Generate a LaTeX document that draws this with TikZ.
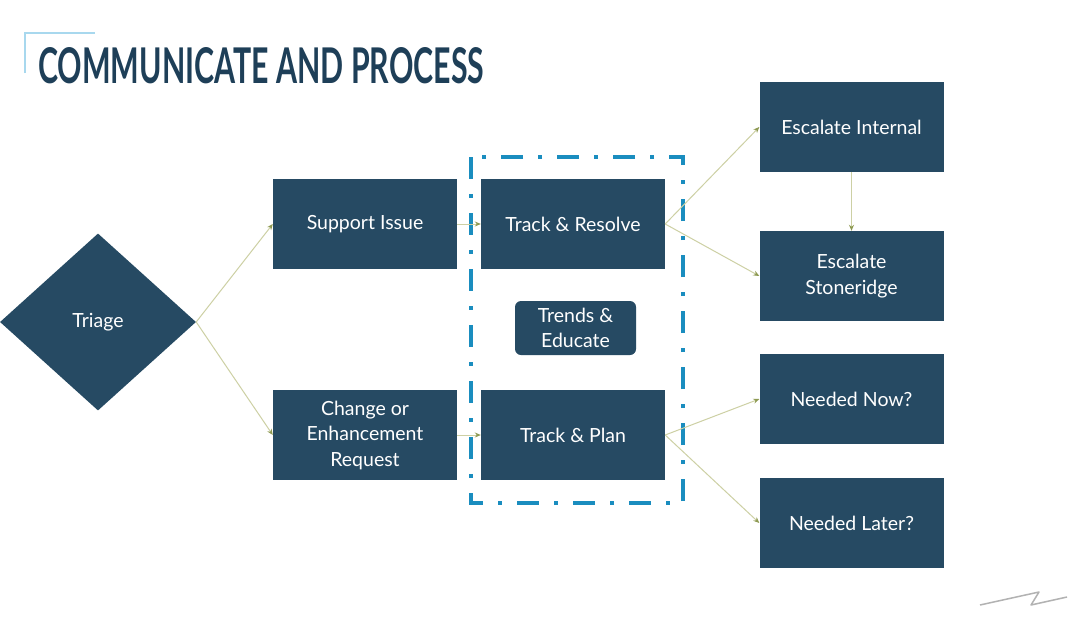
\documentclass[tikz,border=0pt]{standalone}
\usepackage{fontspec}
\setmainfont{Lato}
\usetikzlibrary{shapes.geometric,arrows.meta}
\definecolor{boxblue}{HTML}{264A63}
\definecolor{titleblue}{HTML}{1E3F58}
\definecolor{dashblue}{HTML}{1A8DBF}
\definecolor{linkline}{HTML}{CDD0A4}
\definecolor{linkhead}{HTML}{8E9A52}
\definecolor{cornerblue}{HTML}{A8D8EE}
\begin{document}
\begin{tikzpicture}[x=1pt,y=-1pt,
  stage/.style={rectangle,fill=boxblue,text=white,minimum width=184pt,minimum height=90pt,inner sep=2pt,align=center,font=\fontsize{19.5}{25.5}\selectfont},
  link/.style={draw=linkline,line width=1pt,-{Stealth[length=6pt,width=5pt,color=linkhead]}}]
      \useasboundingbox[fill=white] (0,0) rectangle (1082,635);
      \draw[cornerblue,line width=2pt] (25,73) -- (25,33) -- (95,33);
      \node[anchor=north west,inner sep=0,text=titleblue] (title) at (38,47) {\resizebox{446pt}{36pt}{\bfseries COMMUNICATE AND PROCESS}};
      \draw[dashblue,line width=4pt,dash pattern=on 22pt off 15pt on 4pt off 15pt] (471,157) rectangle (683,503);
      \node[diamond,fill=boxblue,text=white,aspect=1,minimum width=196pt,minimum height=177pt,inner sep=0,font=\fontsize{19.5}{25.5}\selectfont] (triage) at (98,322) {Triage};
      \node[stage] (support) at (365,224) {Support Issue};
      \node[stage] (change) at (365,435) {Change or\\Enhancement\\Request};
      \node[stage] (resolve) at (573,224) {Track \& Resolve};
      \node[stage] (plan) at (573,435) {Track \& Plan};
      \node[stage,minimum width=121pt,minimum height=54pt,rounded corners=6pt] (trends) at (575.5,328) {Trends \&\\Educate};
      \node[stage] (internal) at (851.5,127) {Escalate Internal};
      \node[stage] (stoneridge) at (851.5,276) {Escalate\\Stoneridge};
      \node[stage] (now) at (851.5,399) {Needed Now?};
      \node[stage] (later) at (851.5,523) {Needed Later?};
      \draw[link] (triage.east) -- (support.west);
      \draw[link] (triage.east) -- (change.west);
      \draw[link] (support.east) -- (resolve.west);
      \draw[link] (change.east) -- (plan.west);
      \draw[link] (resolve.east) -- (internal.west);
      \draw[link] (resolve.east) -- (stoneridge.west);
      \draw[link] (internal.south) -- (stoneridge.north);
      \draw[link] (plan.east) -- (now.west);
      \draw[link] (plan.east) -- (later.west);
      \draw[gray!60,line width=1.5pt,line join=round] (980,605) -- (1039,592) -- (1031,605) -- (1067,597);
    \end{tikzpicture}
\end{document}
